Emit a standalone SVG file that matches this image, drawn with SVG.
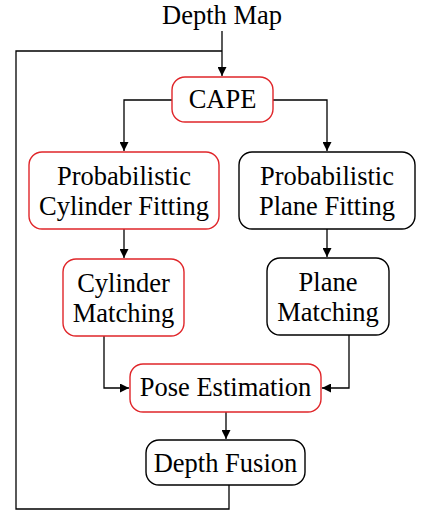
<svg xmlns="http://www.w3.org/2000/svg" width="428" height="518" viewBox="0 0 428 518">
<defs>
<marker id="arr" viewBox="0 0 10 10" refX="10" refY="5" markerWidth="11" markerHeight="9" markerUnits="userSpaceOnUse" orient="auto">
<path d="M0,0 L10,5 L0,10 z" fill="#000"/>
</marker>
<style>
.box{fill:#fff;stroke-width:1.4}
.red{stroke:#e0262a}
.blk{stroke:#000}
text{font-family:"Liberation Serif","Times New Roman",serif;font-size:26.5px;fill:#000;text-anchor:middle}
.c{fill:none;stroke:#000;stroke-width:1.3}
</style>
</defs>
<rect width="428" height="518" fill="#fff"/>
<g id="connectors">
<path class="c" d="M222,31 V76" marker-end="url(#arr)"/>
<path class="c" d="M222,51 H16 V509 H229 V485"/>
<path class="c" d="M172,100 H124 V151" marker-end="url(#arr)"/>
<path class="c" d="M273,100 H327 V151" marker-end="url(#arr)"/>
<path class="c" d="M124,229 V258" marker-end="url(#arr)"/>
<path class="c" d="M327,229 V257" marker-end="url(#arr)"/>
<path class="c" d="M104,336 V388 H129" marker-end="url(#arr)"/>
<path class="c" d="M349,335 V388 H322" marker-end="url(#arr)"/>
<path class="c" d="M226,412 V439" marker-end="url(#arr)"/>
</g>
<g id="depth-map">
<text x="222" y="24">Depth Map</text>
</g>
<g id="cape">
<rect class="box red" x="172" y="77" width="101" height="45" rx="13"/>
<text x="222.5" y="108">CAPE</text>
</g>
<g id="cyl-fit">
<rect class="box red" x="29" y="152" width="190" height="77" rx="13"/>
<text x="124" y="185">Probabilistic</text>
<text x="124" y="215">Cylinder Fitting</text>
</g>
<g id="plane-fit">
<rect class="box blk" x="239" y="152" width="176" height="77" rx="13"/>
<text x="327" y="185">Probabilistic</text>
<text x="327" y="215">Plane Fitting</text>
</g>
<g id="cyl-match">
<rect class="box red" x="63" y="259" width="121" height="77" rx="13"/>
<text x="123.5" y="292">Cylinder</text>
<text x="123.5" y="322">Matching</text>
</g>
<g id="plane-match">
<rect class="box blk" x="267" y="258" width="122" height="77" rx="13"/>
<text x="328" y="291">Plane</text>
<text x="328" y="321">Matching</text>
</g>
<g id="pose">
<rect class="box red" x="130" y="364" width="191" height="48" rx="13"/>
<text x="225.5" y="396">Pose Estimation</text>
</g>
<g id="fusion">
<rect class="box blk" x="146" y="440" width="159" height="45" rx="13"/>
<text x="225.5" y="472">Depth Fusion</text>
</g>
</svg>
